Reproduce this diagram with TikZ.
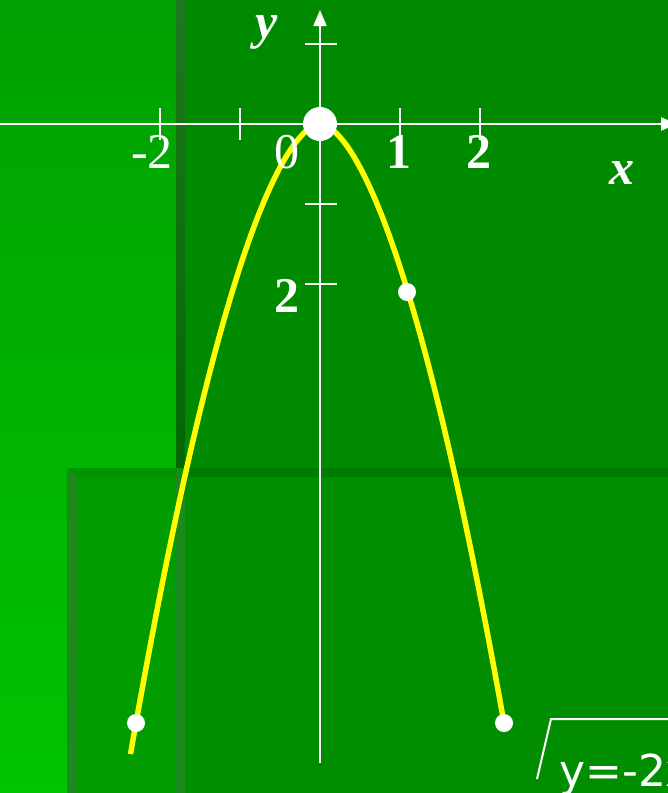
\documentclass[tikz,border=0pt]{standalone}
\usepackage{fontspec}
\setmainfont{Liberation Serif}
\newfontfamily\labelsans{DejaVu Sans}
\usetikzlibrary{arrows.meta}
\definecolor{bgtop}{HTML}{00A000}
\definecolor{bgbot}{HTML}{00C400}
\definecolor{panelA}{HTML}{008A00}
\definecolor{panelAlow}{HTML}{008E00}
\definecolor{stripAtop}{HTML}{1E781E}
\definecolor{stripAbot}{HTML}{006800}
\definecolor{stripAlow}{HTML}{1A8A1A}
\definecolor{panelB}{HTML}{009C00}
\definecolor{topBleft}{HTML}{009400}
\definecolor{topBright}{HTML}{007A00}
\definecolor{stripB}{HTML}{1E8A1E}
\definecolor{curveyellow}{HTML}{FFFF00}
\begin{document}
\begin{tikzpicture}[x=1pt,y=-1pt,
  axis/.style={white,line width=2pt},
  tickmark/.style={white,line width=2pt},
  curve/.style={curveyellow,line width=5.5pt},
  dot/.style={circle,fill=white,minimum size=18pt,inner sep=0},
  bigdot/.style={circle,fill=white,minimum size=34pt,inner sep=0},
  lab/.style={white,inner sep=0,anchor=base,font=\fontsize{50}{60}\selectfont},
  frame/.style={white,line width=2pt}]
\useasboundingbox (0,0) rectangle (668,793);
\clip (0,0) rectangle (668,793);
% background
\shade[top color=bgtop,bottom color=bgbot] (0,0) rectangle (668,793);
\fill[panelA] (176,0) rectangle (668,468);
\shade[top color=stripAtop,bottom color=stripAbot] (176,0) rectangle (185,468);
\fill[panelB] (67,468) rectangle (668,793);
\fill[panelAlow] (185,477) rectangle (668,793);
\fill[stripAlow] (176,468) -- (185,477) -- (185,793) -- (176,793) -- cycle;
\fill[topBleft] (67,468) -- (176,468) -- (176,477) -- (77,477) -- cycle;
\fill[topBright] (185,468) rectangle (668,477);
\fill[stripB] (67,468) -- (77,477) -- (77,793) -- (67,793) -- cycle;
% axes
\coordinate (xs) at (0,124);
\coordinate (xe) at (677,124);
\coordinate (ys) at (320,763);
\coordinate (ye) at (320,10);
\draw[axis,-{Triangle[length=16pt,width=13pt]}] (xs) -- (xe);
\draw[axis,-{Triangle[length=16pt,width=13pt]}] (ys) -- (ye);
% ticks
\foreach \t in {160,240,400,480}{
  \draw[tickmark] (\t,108) -- (\t,140);
}
\foreach \t in {44,204,284}{
  \draw[tickmark] (305,\t) -- (337,\t);
}
% curve
\draw[curve] plot[domain=-189.5:184,samples=121] ({320+\x},{124+0.0762*abs(\x)^1.72});
% points
\node[bigdot] (o) at (320,124) {};
\node[dot] (p1) at (407,292) {};
\node[dot] (p2) at (136,723) {};
\node[dot] (p3) at (504,723) {};
% labels
\node[lab] (ly) at (267,38) {\textbf{\textit{y}}};
\node[lab] (lx) at (622,184) {\textbf{\textit{x}}};
\node[lab] (lm2) at (152,168) {-2};
\node[lab] (l0) at (287,168) {0};
\node[lab] (l1) at (399,168) {\textbf{1}};
\node[lab] (l2) at (479,168) {\textbf{2}};
\node[lab] (ly2) at (287,312) {\textbf{2}};
% formula frame
\coordinate (f1) at (537,779);
\coordinate (f2) at (551,719);
\coordinate (f3) at (680,719);
\draw[frame] (f1) -- (f2) -- (f3);
\node[white,inner sep=0,anchor=base west,font=\labelsans\fontsize{44}{53}\selectfont] (eq) at (559,786) {y=-2x};
\end{tikzpicture}
\end{document}
